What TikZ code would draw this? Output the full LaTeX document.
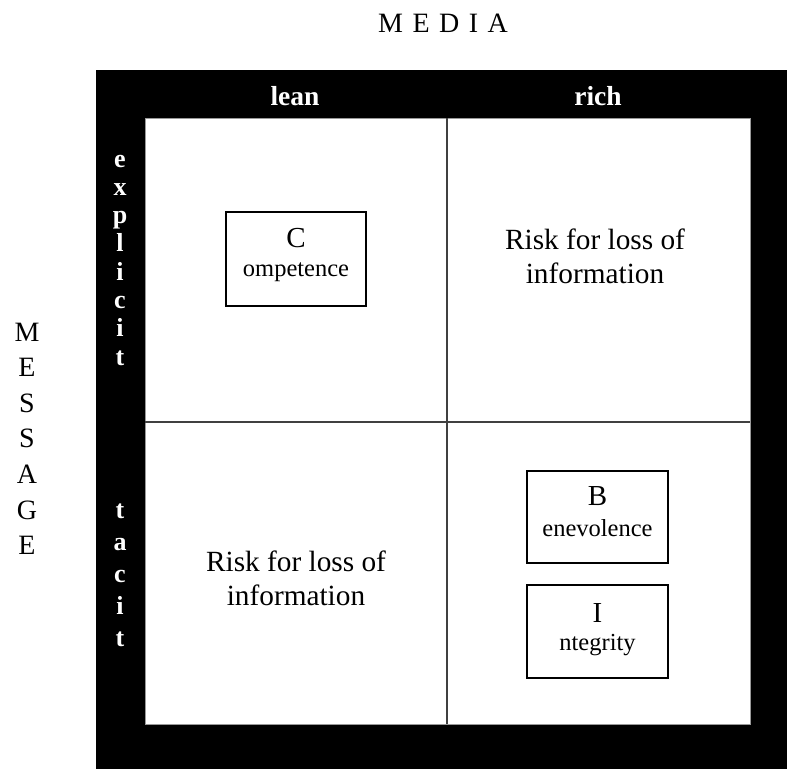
\documentclass[tikz,border=0pt]{standalone}
\usepackage{fontspec}
\setmainfont{Liberation Serif}
\begin{document}
\begin{tikzpicture}[x=1pt,y=-1pt,
  big/.style={font=\fontsize{29.3}{34}\selectfont, align=center, inner sep=0pt},
  hdr/.style={font=\fontsize{27.5}{32}\selectfont\bfseries, text=white, inner sep=0pt, anchor=base},
  vlet/.style={font=\fontsize{26}{30}\selectfont\bfseries, text=white, inner sep=0pt, anchor=base},
  mlet/.style={font=\fontsize{28}{32}\selectfont, inner sep=0pt, anchor=base},
  capl/.style={font=\fontsize{29}{32}\selectfont, inner sep=0pt},
  subl/.style={font=\fontsize{24.5}{28}\selectfont, inner sep=0pt},
  boxr/.style={draw=black, line width=1.8pt},
  divider/.style={draw=black!75, line width=1.6pt}]
\useasboundingbox (0,0) rectangle (787,769);
% black frame
\fill[black] (96,70) rectangle (787,769);
\fill[white] (145,118) rectangle (750,724);
\draw[black!40, line width=0.6pt] (145,118) rectangle (750,724);
% dividers
\coordinate (vt) at (447,118);
\coordinate (vb) at (447,724);
\coordinate (hl) at (145,422);
\coordinate (hr) at (750,422);
\draw[divider] (vt) -- (vb);
\draw[divider] (hl) -- (hr);
% titles
\node[mlet] (media) at (443,32) {M\hspace{9.5pt}E\hspace{9.5pt}D\hspace{9.5pt}I\hspace{9.5pt}A};
\foreach \l [count=\k from 0] in {M,E,S,S,A,G,E}
  \node[mlet] (msg\k) at (27,{341+35.6*\k}) {\l};
% headers
\node[hdr] (lean) at (295,105) {lean};
\node[hdr] (rich) at (598,105) {rich};
\foreach \l [count=\k from 0] in {e,x,p,l,i,c,i,t}
  \node[vlet] (ex\k) at (120,{167+28.3*\k}) {\l};
\foreach \l [count=\k from 0] in {t,a,c,i,t}
  \node[vlet] (ta\k) at (120,{518+32*\k}) {\l};
% quadrant texts
\node[big] (risk1) at (595,256) {Risk for loss of\\information};
\node[big] (risk2) at (296,578) {Risk for loss of\\information};
% boxes
\draw[boxr] (226,212) rectangle (366,306);
\node[capl] (cC) at (296,238) {C};
\node[subl] (cc) at (296,272) {ompetence};
\draw[boxr] (527,471) rectangle (668,563);
\node[capl] (bB) at (597.5,496) {B};
\node[subl] (bb) at (597.5,528) {enevolence};
\draw[boxr] (527,585) rectangle (668,678);
\node[capl] (iI) at (597.5,613) {I};
\node[subl] (ii) at (597.5,645) {ntegrity};
\end{tikzpicture}
\end{document}
